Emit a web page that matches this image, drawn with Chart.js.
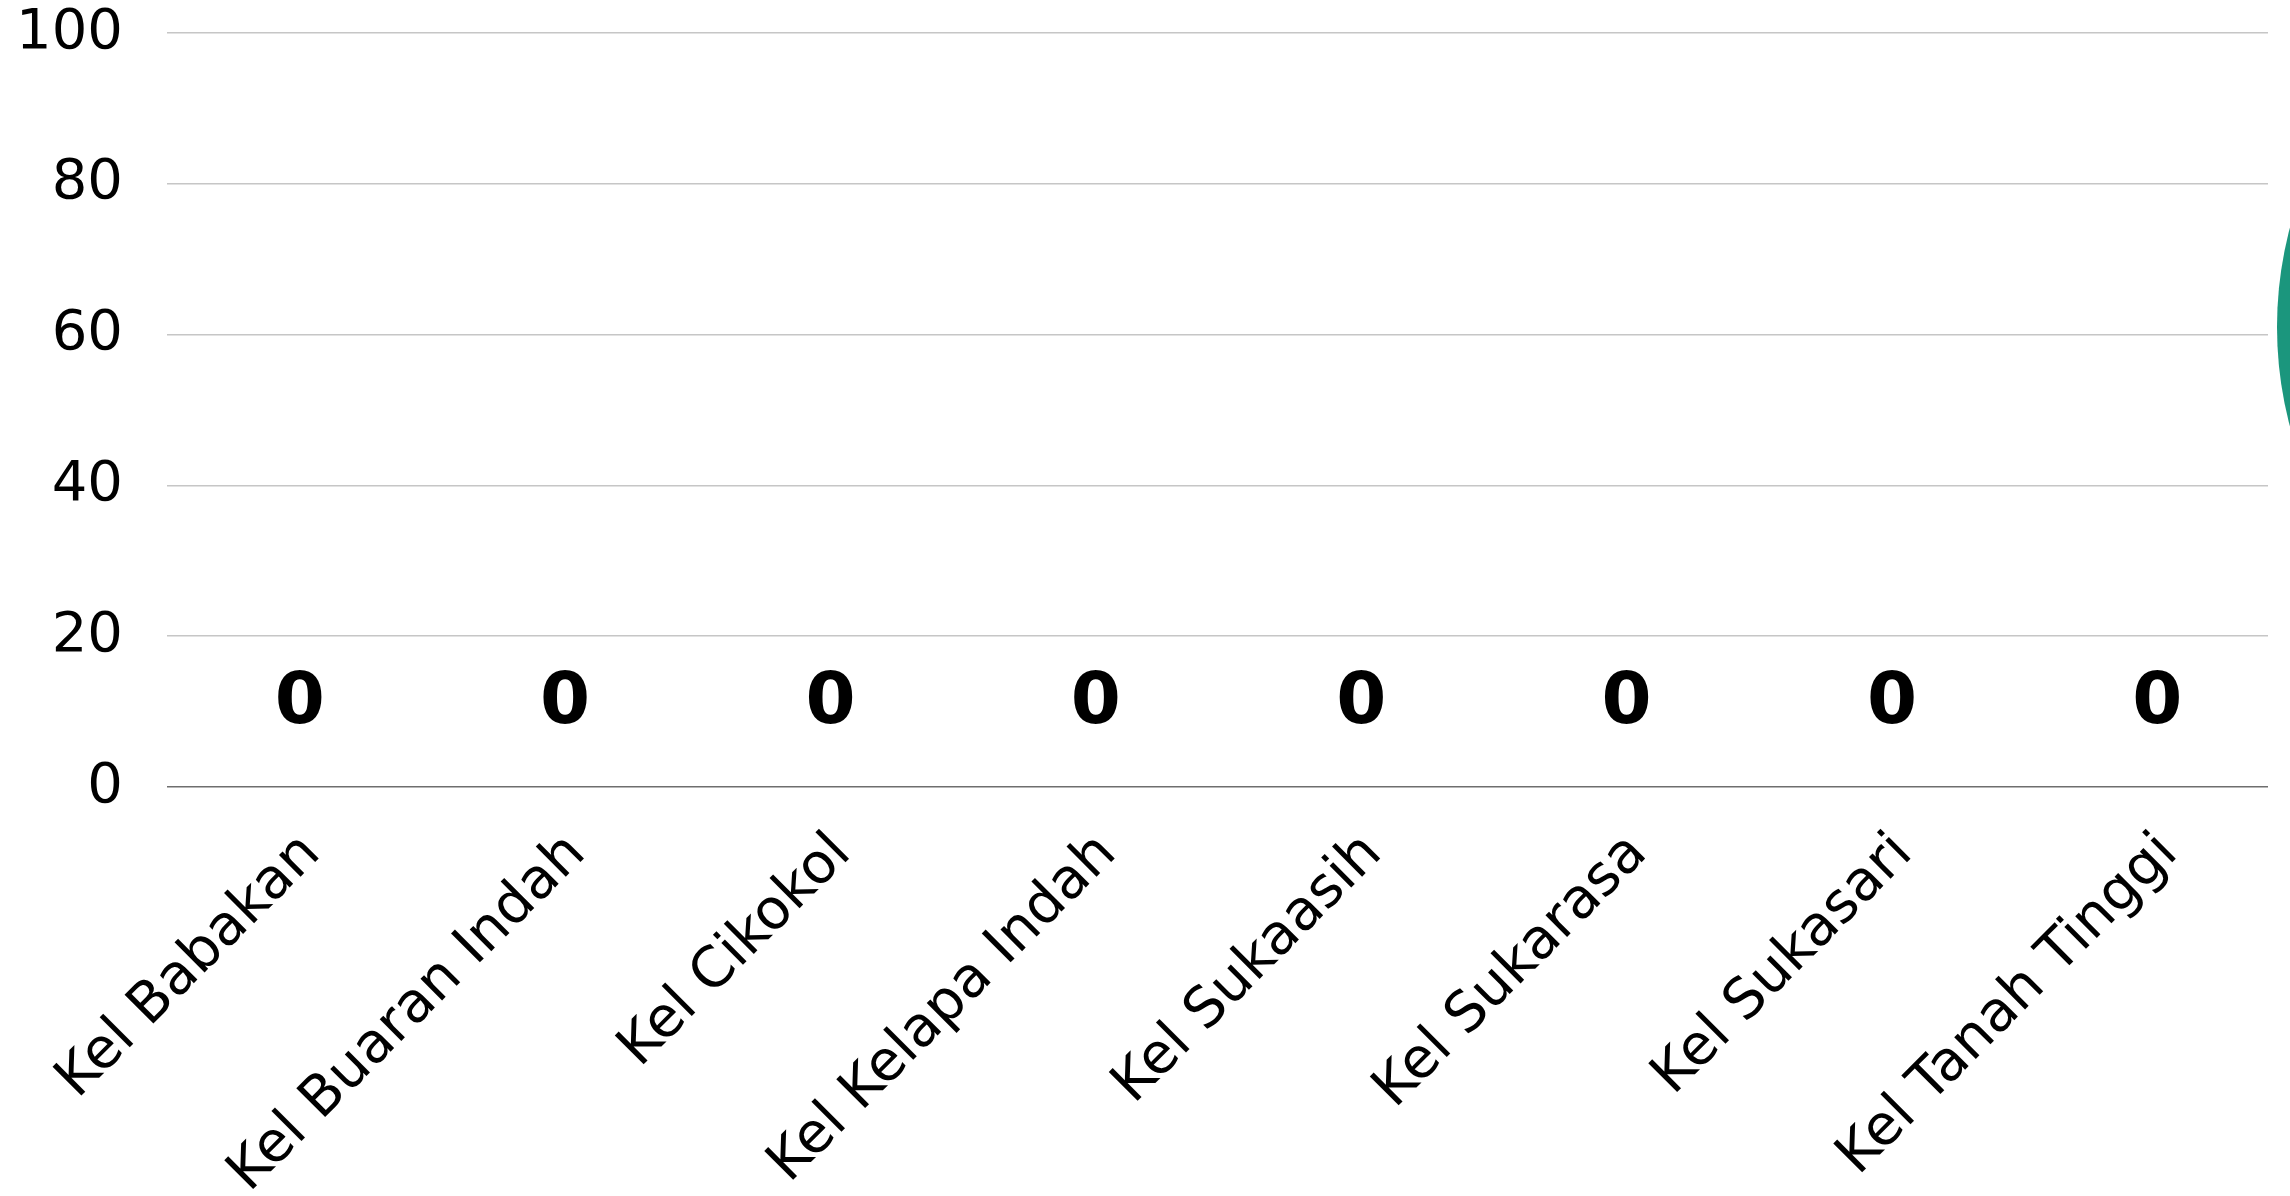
<!DOCTYPE html>
<html>
<head>
<meta charset="utf-8">
<script src="https://cdn.jsdelivr.net/npm/chart.js@4/dist/chart.umd.min.js"></script>
<style>
  html, body { margin: 0; padding: 0; background: #fff; overflow: hidden; }
  #wrap { position: relative; width: 2290px; height: 1196px; }
  #fab { position: absolute; left: 2277px; top: -63px; width: 780px; height: 780px; border-radius: 50%; background: #1b967d; }
</style>
</head>
<body>
<div id="wrap">
  <canvas id="myBarChart" width="2290" height="1196"></canvas>
  <div id="fab"></div>
</div>
<script>
var kelurahan = ["Kel Babakan", "Kel Buaran Indah", "Kel Cikokol", "Kel Kelapa Indah", "Kel Sukaasih", "Kel Sukarasa", "Kel Sukasari", "Kel Tanah Tinggi"];
var jumlah = [0, 0, 0, 0, 0, 0, 0, 0];
var yMin = 0, yMax = 100, yStep = 20;

// draws the value above each bar
var valueLabels = {
    id: 'valueLabels',
    afterDatasetsDraw: function(chart) {
        var ctx = chart.ctx;
        ctx.save();
        ctx.font = 'bold 72px "DejaVu Sans"';
        ctx.fillStyle = '#000';
        ctx.textAlign = 'center';
        ctx.textBaseline = 'alphabetic';
        chart.getDatasetMeta(0).data.forEach(function(bar, i) {
            ctx.fillText(String(chart.data.datasets[0].data[i]), bar.x, bar.y - 64);
        });
        ctx.restore();
    }
};

// the grid lines stop a little short of the right edge
var gridEnd = {
    id: 'gridEnd',
    afterDraw: function(chart) {
        var a = chart.chartArea;
        var ctx = chart.ctx;
        ctx.save();
        ctx.fillStyle = '#fff';
        ctx.fillRect(a.right - 22, 0, 22, a.bottom + 2);
        ctx.restore();
    }
};

document.addEventListener("DOMContentLoaded", function() {
    var ctx = document.getElementById("myBarChart").getContext('2d');
    new Chart(ctx, {
        type: 'bar',
        data: {
            labels: kelurahan,
            datasets: [{
                data: jumlah,
                backgroundColor: "#1b967d",
                borderWidth: 0
            }]
        },
        options: {
            responsive: false,
            animation: false,
            devicePixelRatio: 1,
            layout: { padding: { top: 2, right: 0, left: 0, bottom: 0 } },
            plugins: {
                legend: { display: false },
                title: { display: false },
                tooltip: { enabled: false }
            },
            scales: {
                x: {
                    grid: { display: false },
                    border: { display: false },
                    ticks: {
                        color: '#000',
                        font: { family: '"DejaVu Sans"', size: 56 },
                        minRotation: 45,
                        maxRotation: 45,
                        padding: 26,
                        labelOffset: 12
                    },
                    afterFit: function(scale) {
                        scale.height = 409;
                        scale.paddingRight = 0;
                    }
                },
                y: {
                    min: yMin,
                    max: yMax,
                    ticks: {
                        stepSize: yStep,
                        color: '#000',
                        font: { family: '"DejaVu Sans"', size: 56 },
                        padding: 44
                    },
                    border: { display: false },
                    grid: {
                        drawTicks: false,
                        lineWidth: 1.5,
                        color: function(c) { return c.tick && c.tick.value === 0 ? '#6e6e6e' : '#c6c6c6'; }
                    },
                    afterFit: function(scale) {
                        scale.width = 167;
                        scale.paddingTop = 33;
                        scale.paddingBottom = 33;
                    }
                }
            }
        },
        plugins: [valueLabels, gridEnd]
    });
});
</script>
</body>
</html>
